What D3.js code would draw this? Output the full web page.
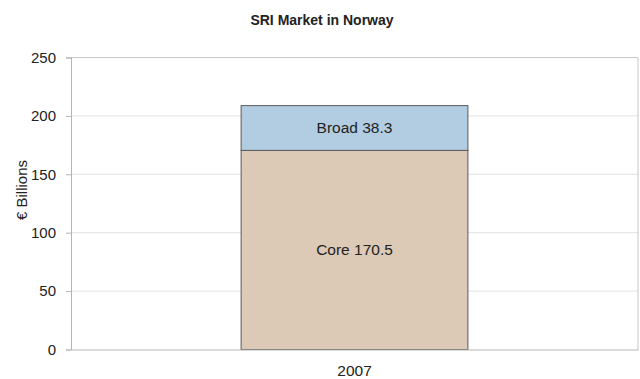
<!DOCTYPE html>
<html>
<head>
<meta charset="utf-8">
<script src="https://cdn.jsdelivr.net/npm/d3@7"></script>
<style>
  html, body { margin: 0; padding: 0; background: #fff; }
  svg { display: block; font-family: "Liberation Sans", Arial, sans-serif; }
</style>
</head>
<body>
<svg id="chart" width="640" height="379"></svg>
<script>
// Categories, segments and values
const years = ["2007"];
const segments = ["Core", "Broad"];
const coreValues = [170.5];
const broadValues = [38.3];
const yTicks = [0, 50, 100, 150, 200, 250];
const segmentColors = { Core: "#dccab6", Broad: "#b2cde1" };

const svg = d3.select("#chart");
const margin = { left: 71, right: 2, top: 57.5, bottom: 29.5 };
const W = 640, H = 379;
const x0 = margin.left, x1 = W - margin.right;
const y0 = H - margin.bottom, y1 = margin.top;

const x = d3.scaleBand().domain(years).range([x0, x1]).padding(0.4286);
const y = d3.scaleLinear().domain([0, 250]).range([y0, y1]);

// Title
svg.append("text")
  .attr("x", 322).attr("y", 25)
  .attr("text-anchor", "middle")
  .attr("font-size", 14).attr("font-weight", "bold").attr("fill", "#222")
  .text("SRI Market in Norway");

// Gridlines
svg.append("g").selectAll("line").data(yTicks.filter(d => d > 0)).join("line")
  .attr("x1", x0).attr("x2", x1)
  .attr("y1", d => y(d)).attr("y2", d => y(d))
  .attr("stroke", "#e2e2e2").attr("stroke-width", 1);

// Plot frame (top and right)
svg.append("path")
  .attr("d", `M${x0},${y1}H${x1}V${y0}`)
  .attr("fill", "none").attr("stroke", "#c8c8c8").attr("stroke-width", 1);

// Stacked data
const rows = years.map((yr, i) => ({ year: yr, Core: coreValues[i], Broad: broadValues[i] }));
const stacked = d3.stack().keys(segments)(rows);

const bars = svg.append("g");
stacked.forEach(layer => {
  bars.selectAll(null).data(layer).join("rect")
    .attr("x", d => x(d.data.year))
    .attr("width", x.bandwidth())
    .attr("y", d => y(d[1]))
    .attr("height", d => y(d[0]) - y(d[1]))
    .attr("fill", segmentColors[layer.key])
    .attr("stroke", "#5a5a5a").attr("stroke-width", 1);
  bars.selectAll(null).data(layer).join("text")
    .attr("x", d => x(d.data.year) + x.bandwidth() / 2)
    .attr("y", d => (y(d[0]) + y(d[1])) / 2 + 5.5)
    .attr("text-anchor", "middle")
    .attr("font-size", 15.5).attr("fill", "#222")
    .text(d => `${layer.key} ${d.data[layer.key]}`);
});

// Y axis
const yAxis = svg.append("g")
  .attr("transform", `translate(${x0},0)`)
  .call(d3.axisLeft(y).tickValues(yTicks).tickSize(5).tickPadding(10));
yAxis.select(".domain").attr("stroke", "#b5b5b5");
yAxis.selectAll(".tick line").attr("stroke", "#b5b5b5");
yAxis.selectAll(".tick text")
  .attr("font-size", 15).attr("fill", "#222")
  .attr("font-family", "'Liberation Sans', Arial, sans-serif");

// X axis
const xAxis = svg.append("g")
  .attr("transform", `translate(0,${y0})`)
  .call(d3.axisBottom(x).tickSize(0).tickPadding(15));
xAxis.select(".domain").attr("stroke", "#b5b5b5");
xAxis.selectAll(".tick text")
  .attr("font-size", 15.5).attr("fill", "#222")
  .attr("font-family", "'Liberation Sans', Arial, sans-serif");

// Y axis title
svg.append("text")
  .attr("transform", "translate(27,190) rotate(-90)")
  .attr("text-anchor", "middle")
  .attr("font-size", 15).attr("fill", "#222")
  .text("€ Billions");
</script>
</body>
</html>
